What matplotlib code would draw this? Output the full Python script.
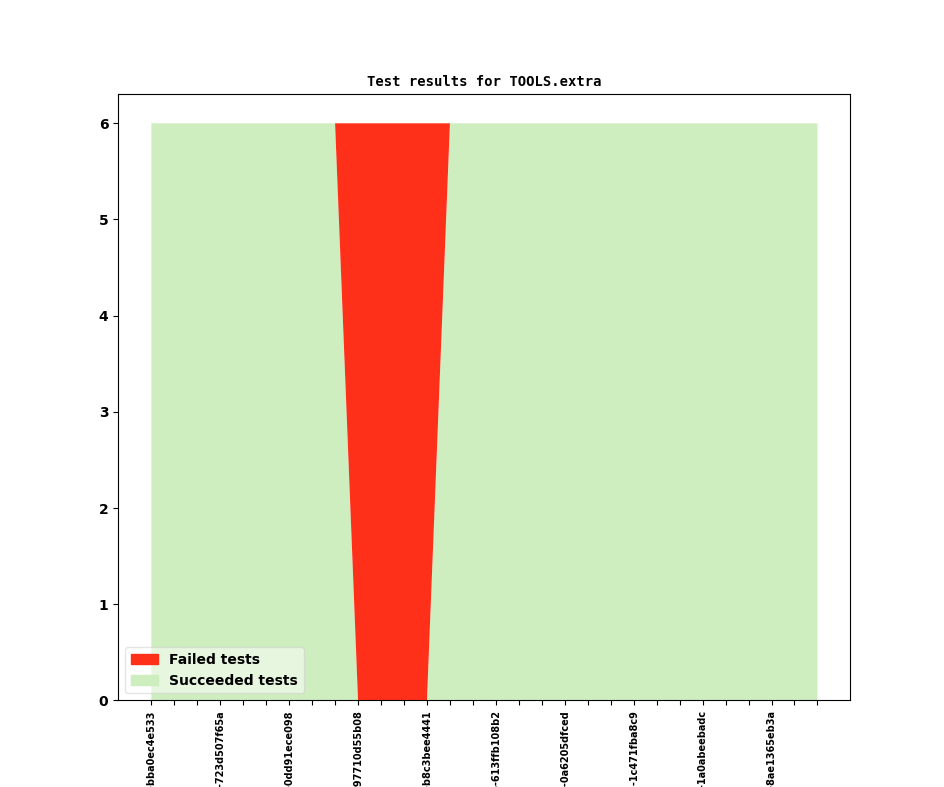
import matplotlib
matplotlib.use("Agg")
import matplotlib.pyplot as plt
from matplotlib.patches import Patch
import numpy as np

failed = [0, 0, 0, 0, 0, 0, 0, 0, 0, 6, 6, 6, 6, 0, 0, 0, 0, 0, 0, 0,
          0, 0, 0, 0, 0, 0, 0, 0, 0, 0]
succeeded = [6, 6, 6, 6, 6, 6, 6, 6, 6, 0, 0, 0, 0, 6, 6, 6, 6, 6, 6, 6,
             6, 6, 6, 6, 6, 6, 6, 6, 6, 6]
tick_labels = ["r0001-bba0ec4e533", "r0004-723d507f65a", "r0007-0dd91ece098",
               "r0010-97710d55b08", "r0013-b8c3bee4441", "r0016-613ffb108b2",
               "r0019-0a6205dfced", "r0022-1c471fba8c9", "r0025-1a0abeebadc",
               "r0028-8ae1365eb3a"]

red = "#ff301a"
green = "#cfeebf"

fig = plt.figure(figsize=(9.44, 7.87), dpi=100)
ax = fig.add_subplot(111)
x = np.arange(len(failed))
ax.stackplot(x, succeeded, failed, colors=[green, red])
ax.set_xlim(-1.45, 30.4)

ax.set_xticks(x)
labels = [""] * len(x)
for i, lab in enumerate(tick_labels):
    labels[i * 3] = lab
ax.set_xticklabels(labels, rotation=90, fontsize=7, fontweight="bold")
for t in ax.get_yticklabels():
    t.set_fontweight("bold")
    t.set_fontsize(10)

ax.set_title("Test results for TOOLS.extra", fontfamily="monospace",
             fontweight="bold", fontsize=10)

handles = [Patch(color=red, label="Failed tests"),
           Patch(color=green, label="Succeeded tests")]
ax.legend(handles=handles, loc="lower left", framealpha=0.5,
          prop={"weight": "bold", "size": 10})

fig.savefig("out.png", dpi=100)
